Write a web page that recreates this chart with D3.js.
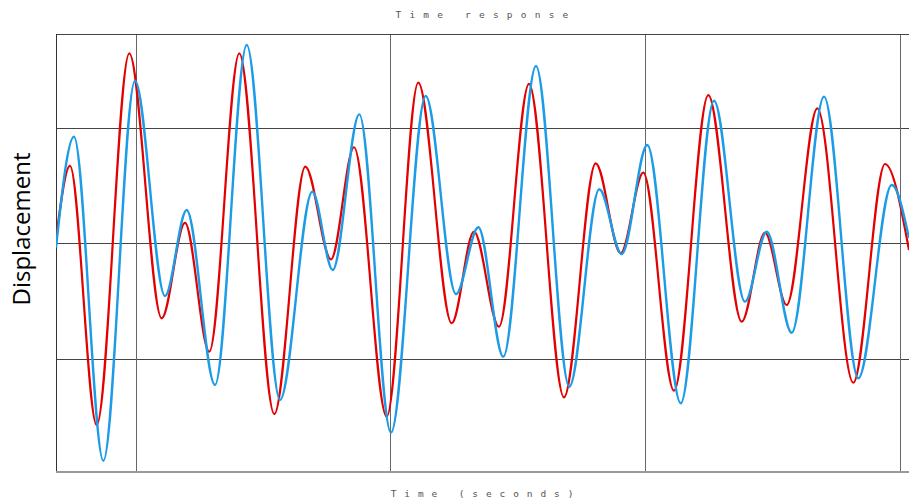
<!DOCTYPE html>
<html>
<head>
<meta charset="utf-8">
<script src="https://cdn.jsdelivr.net/npm/d3@7"></script>
<style>
  body { margin: 0; background: #fff; }
  svg { display: block; }
</style>
</head>
<body>
<div class="chart-holder"></div>
<script>
// time (s) and displacement, at the peaks and troughs
var redT = [0, 0.164, 0.477, 0.859, 1.239, 1.512, 1.797, 2.149, 2.559, 2.923, 3.224, 3.494, 3.877, 4.247, 4.639, 4.900, 5.193, 5.545, 5.955, 6.327, 6.620, 6.885, 7.245, 7.647, 8.039, 8.312, 8.566, 8.925, 9.347, 9.719, 10.0];
var redY = [0.03, 0.667, -1.576, 1.642, -0.652, 0.175, -0.941, 1.642, -1.481, 0.661, -0.141, 0.829, -1.504, 1.388, -0.695, 0.098, -0.725, 1.377, -1.336, 0.690, -0.089, 0.609, -1.279, 1.281, -0.681, 0.089, -0.537, 1.166, -1.210, 0.684, -0.061];
var blueT = [0, 0.211, 0.555, 0.926, 1.278, 1.532, 1.864, 2.236, 2.626, 3.005, 3.244, 3.556, 3.927, 4.334, 4.689, 4.951, 5.244, 5.627, 6.018, 6.369, 6.632, 6.932, 7.324, 7.714, 8.077, 8.332, 8.625, 9.004, 9.406, 9.797, 10.0];
var blueY = [-0.04, 0.920, -1.885, 1.405, -0.459, 0.286, -1.229, 1.714, -1.359, 0.444, -0.234, 1.114, -1.642, 1.273, -0.442, 0.136, -0.984, 1.532, -1.244, 0.465, -0.095, 0.848, -1.388, 1.232, -0.508, 0.098, -0.777, 1.267, -1.171, 0.502, 0.043];
var xGrid = [0.94, 3.92, 6.905, 9.895];
var yGrid = [-1, 0, 1];

var width = 909, height = 500;
var margin = {top: 34, right: -20, bottom: 29, left: 56};

var scaleX = d3.scaleLinear().domain([0, 10]).range([margin.left, 909]);
var scaleY = d3.scaleLinear().domain([0, 1]).range([243, 127.5]);

var svg = d3.select(".chart-holder")
  .append("svg")
  .attr("width", width)
  .attr("height", height);

var plotRight = width - margin.right;   // box runs past the right edge
var plotBottom = height - margin.bottom;

svg.append("clipPath").attr("id", "clip")
  .append("rect")
  .attr("x", margin.left).attr("y", margin.top)
  .attr("width", plotRight - margin.left)
  .attr("height", plotBottom - margin.top);

/* grid lines */
svg.append("g").selectAll("line").data(yGrid).enter().append("line")
  .attr("x1", margin.left).attr("x2", plotRight)
  .attr("y1", d => Math.round(scaleY(d)) + 0.5).attr("y2", d => Math.round(scaleY(d)) + 0.5)
  .attr("stroke", "#444").attr("stroke-width", 1);

svg.append("g").selectAll("line").data(xGrid).enter().append("line")
  .attr("x1", d => Math.round(scaleX(d)) + 0.5).attr("x2", d => Math.round(scaleX(d)) + 0.5)
  .attr("y1", margin.top).attr("y2", plotBottom)
  .attr("stroke", "#666").attr("stroke-width", 1);

/* frame */
svg.append("line").attr("x1", margin.left).attr("x2", plotRight)
  .attr("y1", margin.top + 0.5).attr("y2", margin.top + 0.5)
  .attr("stroke", "#444");
svg.append("line").attr("x1", margin.left + 0.5).attr("x2", margin.left + 0.5)
  .attr("y1", margin.top).attr("y2", plotBottom)
  .attr("stroke", "#333");
svg.append("line").attr("x1", margin.left).attr("x2", plotRight)
  .attr("y1", plotBottom + 1).attr("y2", plotBottom + 1)
  .attr("stroke", "#999").attr("stroke-width", 2);

/* curves */
var line = d3.line()
  .x(d => scaleX(d[0]))
  .y(d => scaleY(d[1]))
  .curve(d3.curveMonotoneX);

var redData = redT.map((t, i) => [t, redY[i]]);
var blueData = blueT.map((t, i) => [t, blueY[i]]);

var curves = svg.append("g").attr("clip-path", "url(#clip)");
curves.append("path").datum(redData)
  .attr("d", line)
  .attr("fill", "none")
  .attr("stroke", "#e30000")
  .attr("stroke-width", 2.2);
curves.append("path").datum(blueData)
  .attr("d", line)
  .attr("fill", "none")
  .attr("stroke", "#1c9be6")
  .attr("stroke-width", 2.4);

/* titles */
svg.append("text")
  .attr("x", 486).attr("y", 18)
  .attr("text-anchor", "middle")
  .style("font-family", "DejaVu Sans Mono")
  .style("font-size", "9.5px")
  .style("letter-spacing", "8.2px")
  .attr("fill", "#555")
  .text("Time response");

svg.append("text")
  .attr("x", 486).attr("y", 497)
  .attr("text-anchor", "middle")
  .style("font-family", "DejaVu Sans Mono")
  .style("font-size", "9.5px")
  .style("letter-spacing", "7.9px")
  .attr("fill", "#555")
  .text("Time (seconds)");

svg.append("text")
  .attr("transform", "rotate(-90)")
  .attr("x", -229)
  .attr("y", 30)
  .attr("text-anchor", "middle")
  .style("font-family", "Open Sans")
  .style("font-size", "24px")
  .attr("fill", "#000")
  .text("Displacement");
</script>
</body>
</html>
